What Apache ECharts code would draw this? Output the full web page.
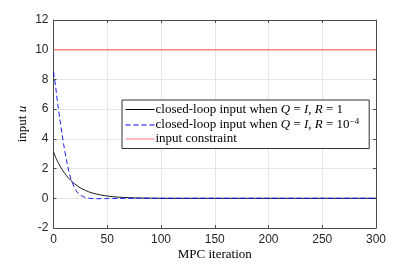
<!DOCTYPE html>
<html><head><meta charset="utf-8">
<script src="https://cdn.jsdelivr.net/npm/echarts@6/dist/echarts.min.js"></script>
<style>html,body{margin:0;padding:0;background:#fff}#c{width:415px;height:265px}</style>
</head><body><div id="c"></div>
<script>
// data
const blackIter = [0,2,4,6,8,10,12,14,16,18,20,25,30,35,40,45,50,60,70,80,90,100,150,200,250,300];
const blackVals = [3.12,2.75,2.45,2.18,1.93,1.72,1.53,1.36,1.21,1.07,0.95,0.70,0.52,0.38,0.28,0.21,0.15,0.08,0.04,0.02,0.01,0,0,0,0,0];
const blueIter = [0,2,4,6,8,10,12,14,16,18,20,22,25,28,32,36,40,50,60,80,100,150,200,250,300];
const blueVals = [8.5,7.5,6.3,5.3,4.3,3.4,2.6,1.9,1.35,0.95,0.65,0.42,0.22,0.1,0.02,-0.02,-0.03,-0.02,-0.01,0,0,0,0,0,0];
const limitIter = [0,300];
const limitVals = [10,10];
const xTicks = [0,50,100,150,200,250,300];
const yTicks = [-2,0,2,4,6,8,10,12];
const names = ['closed-loop input when {i|Q} = {i|I}, {i|R} = 1',
               'closed-loop input when {i|Q} = {i|I}, {i|R} = 10{s|−4}',
               'input constraint'];

const pairs = (xs, ys) => xs.map((x, i) => [x, ys[i]]);
const serif = 'Liberation Serif';
const sans = 'Liberation Sans';
const chart = echarts.init(document.getElementById('c'), null, {renderer: 'canvas'});
const axisLine = {show: true, onZero: false, lineStyle: {color: '#4d4d4d', width: 1}};
const tick = {show: true, inside: true, length: 3, lineStyle: {color: '#4d4d4d'}};
chart.setOption({
  animation: false,
  backgroundColor: '#fff',
  grid: {left: 53.5, right: 39, top: 20, bottom: 37, containLabel: false, outerBoundsMode: 'none'},
  legend: {
    data: names.map(n => ({name: n})),
    orient: 'vertical', left: 122, top: 100,
    backgroundColor: '#fff', borderColor: '#333', borderWidth: 1,
    padding: [3, 10, 3, 3], itemGap: 1, itemWidth: 29, itemHeight: 13,
    itemStyle: {opacity: 0},
    lineStyle: {width: 1},
    formatter: n => n,
    textStyle: {fontFamily: serif, fontSize: 13, color: '#000', padding: [0,0,0,-4],
      rich: {i: {fontFamily: serif, fontStyle: 'italic', fontSize: 13, color: '#000'},
             s: {fontFamily: serif, fontSize: 9, verticalAlign: 'top', padding: [0,0,7,0], color: '#000'}}}
  },
  xAxis: [{
    type: 'value', min: 0, max: 300, interval: 50,
    name: 'MPC iteration', nameLocation: 'middle', nameGap: 20, nameMoveOverlap: false,
    nameTextStyle: {fontFamily: serif, fontSize: 13, color: '#000'},
    axisLine, axisTick: tick,
    axisLabel: {fontFamily: sans, fontSize: 12, color: '#262626', margin: 6,
      formatter: v => xTicks.includes(v) ? String(v) : ''},
    splitLine: {show: true, lineStyle: {color: '#e6e6e6', width: 1}}
  }, {
    type: 'value', position: 'top', min: 0, max: 300, interval: 50,
    axisLine, axisTick: tick, axisLabel: {show: false}, splitLine: {show: false}
  }],
  yAxis: [{
    type: 'value', min: -2, max: 12, interval: 2,
    name: 'input {i|u}', nameLocation: 'middle', nameGap: 24, nameMoveOverlap: false,
    nameTextStyle: {fontFamily: serif, fontSize: 13, color: '#000',
      rich: {i: {fontFamily: serif, fontStyle: 'italic', fontSize: 13, color: '#000'}}},
    axisLine, axisTick: tick,
    axisLabel: {fontFamily: sans, fontSize: 12, color: '#262626', margin: 5,
      formatter: v => yTicks.includes(v) ? String(v) : ''},
    splitLine: {show: true, lineStyle: {color: '#e6e6e6', width: 1}}
  }, {
    type: 'value', position: 'right', min: -2, max: 12, interval: 2,
    axisLine, axisTick: tick, axisLabel: {show: false}, splitLine: {show: false}
  }],
  series: [
    {name: names[0], type: 'line', data: pairs(blackIter, blackVals), smooth: 0.3,
     showSymbol: false, symbol: 'none', lineStyle: {color: '#000', width: 0.9}, itemStyle: {color: '#000'}, z: 3},
    {name: names[1], type: 'line', data: pairs(blueIter, blueVals), smooth: 0.3,
     showSymbol: false, symbol: 'none', lineStyle: {color: '#0000ff', width: 0.9, type: [5, 3]}, itemStyle: {color: '#0000ff'}, z: 4},
    {name: names[2], type: 'line', data: pairs(limitIter, limitVals),
     showSymbol: false, symbol: 'none', lineStyle: {color: '#ff7f7f', width: 1.5}, itemStyle: {color: '#ff7f7f'}, z: 2}
  ]
});
</script></body></html>
